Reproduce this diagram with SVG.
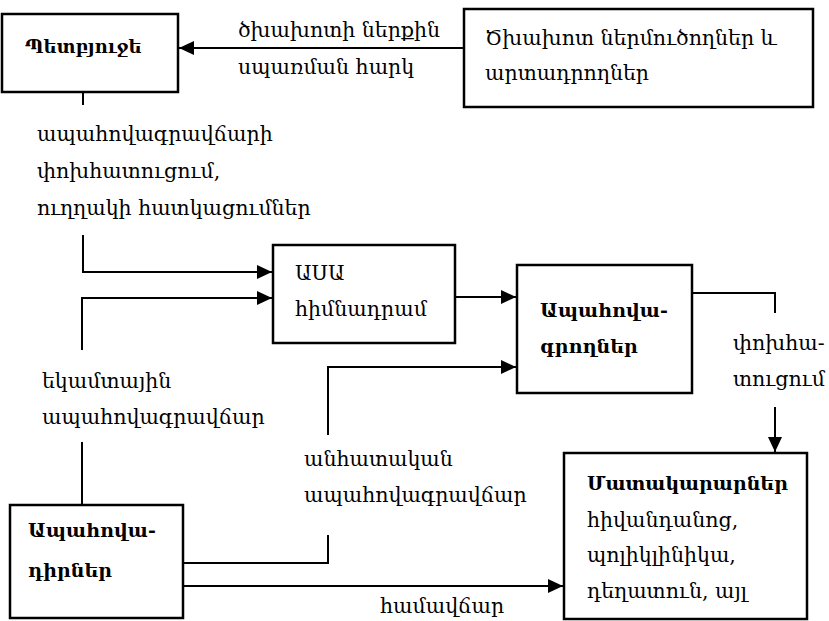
<svg xmlns="http://www.w3.org/2000/svg" width="829" height="621" viewBox="0 0 829 621">
<style>
text{font-family:"DejaVu Serif","Noto Serif Armenian",serif;font-size:20.5px;fill:#000}
.b{font-weight:bold;font-size:19px}
.box{fill:#fff;stroke:#000;stroke-width:2.5}
.ln{fill:none;stroke:#000;stroke-width:2}
</style>
<defs>
<marker id="ar" viewBox="0 0 15 14" refX="15" refY="7" markerWidth="15" markerHeight="14" markerUnits="userSpaceOnUse" orient="auto">
<path d="M0,0 L15,7 L0,14 Z" fill="#000"/>
</marker>
</defs>
<rect width="829" height="621" fill="#fff"/>
<g id="connectors">
<path class="ln" d="M463,48 H179" marker-end="url(#ar)"/>
<path class="ln" d="M83,92 V105"/>
<path class="ln" d="M83,235 V272 H272" marker-end="url(#ar)"/>
<path class="ln" d="M82,350 V298 H272" marker-end="url(#ar)"/>
<path class="ln" d="M455,297 H516" marker-end="url(#ar)"/>
<path class="ln" d="M328,435 V367 H516" marker-end="url(#ar)"/>
<path class="ln" d="M692,293 H775 V313"/>
<path class="ln" d="M775,407 V452" marker-end="url(#ar)"/>
<path class="ln" d="M82,442 V505"/>
<path class="ln" d="M183,563 H328 V535"/>
<path class="ln" d="M183,586 H563" marker-end="url(#ar)"/>
<text x="238" y="37">ծխախոտի ներքին</text>
<text x="238" y="74">սպառման հարկ</text>
<text x="37" y="141">ապահովագրավճարի</text>
<text x="37" y="178">փոխհատուցում,</text>
<text x="37" y="215">ուղղակի հատկացումներ</text>
<text x="42" y="388">եկամտային</text>
<text x="42" y="424">ապահովագրավճար</text>
<text x="304" y="466">անհատական</text>
<text x="304" y="502">ապահովագրավճար</text>
<text x="733" y="350">փոխհա-</text>
<text x="733" y="386">տուցում</text>
<text x="380" y="613">համավճար</text>
</g>
<g id="petbyuje">
<rect class="box" x="2" y="14" width="176" height="78"/>
<text class="b" x="25" y="53" style="font-size:18px">Պետբյուջե</text>
</g>
<g id="tsxaxot">
<rect class="box" x="464" y="9" width="349" height="98"/>
<text x="485" y="45">Ծխախոտ ներմուծողներ և</text>
<text x="485" y="80">արտադրողներ</text>
</g>
<g id="asa">
<rect class="box" x="273" y="245" width="182" height="98"/>
<text x="295" y="280">ԱՍԱ</text>
<text x="295" y="316">հիմնադրամ</text>
</g>
<g id="apahovagroxner">
<rect class="box" x="517" y="265" width="175" height="128"/>
<text class="b" x="540" y="317">Ապահովա-</text>
<text class="b" x="540" y="353">գրողներ</text>
</g>
<g id="apahovadirner">
<rect class="box" x="10" y="505" width="173" height="113"/>
<text class="b" x="28" y="537">Ապահովա-</text>
<text class="b" x="28" y="577">դիրներ</text>
</g>
<g id="matakararner">
<rect class="box" x="564" y="453" width="243" height="166"/>
<text class="b" x="587" y="490">Մատակարարներ</text>
<text x="587" y="527">հիվանդանոց,</text>
<text x="587" y="562">պոլիկլինիկա,</text>
<text x="587" y="598">դեղատուն, այլ</text>
</g>
</svg>
